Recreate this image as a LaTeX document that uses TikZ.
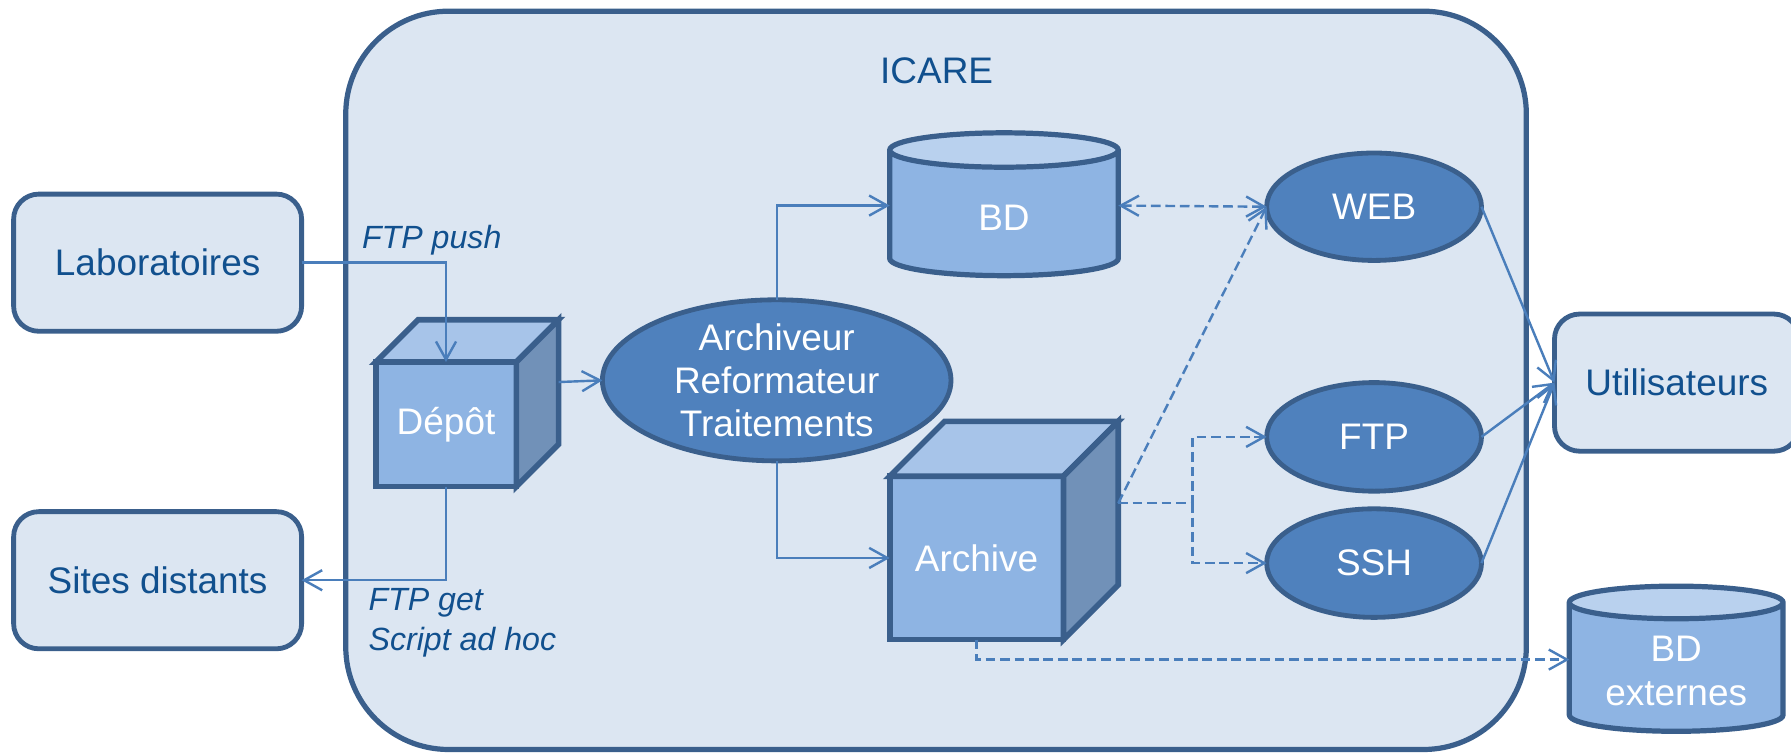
\documentclass[tikz,border=0pt]{standalone}
\usepackage{fontspec}
\setmainfont{Liberation Sans}
\usetikzlibrary{shapes.geometric,arrows.meta,calc}
\definecolor{icarefill}{HTML}{DCE6F2}
\definecolor{icareline}{HTML}{3A5F8C}
\definecolor{linkblue}{HTML}{4A7EBB}
\definecolor{textblue}{HTML}{11508E}
\definecolor{cubefront}{HTML}{8EB4E3}
\definecolor{cubetop}{HTML}{A7C4E9}
\definecolor{cubeside}{HTML}{7191B8}
\definecolor{cyltop}{HTML}{B9D1EE}
\definecolor{ovalfill}{HTML}{4F81BD}
\tikzset{
  txt/.style={font=\fontsize{9.2}{10.8}\selectfont},
  endbox/.style={txt,draw=icareline,fill=icarefill,line width=1.2pt,rounded corners=0.22cm,minimum width=2.52cm,minimum height=1.2cm,text=textblue,inner sep=0,outer sep=0},
  oval/.style={txt,ellipse,draw=icareline,fill=ovalfill,line width=1.2pt,text=white,inner sep=0,outer sep=0},
  cube/.style={txt,draw=icareline,fill=cubefront,line width=1.4pt,text=white,inner sep=0,outer sep=0},
  face/.style={draw=icareline,line width=1.4pt},
  db/.style={txt,cylinder,shape border rotate=90,draw=icareline,line width=1.3pt,cylinder uses custom fill,cylinder body fill=cubefront,cylinder end fill=cyltop,text=white,inner sep=0,outer sep=0,align=center},
  link/.style={linkblue,line width=0.6pt,-{Straight Barb[length=4.5pt,width=5pt]}},
  dlink/.style={link,dash pattern=on 2.4pt off 1.2pt},
  lbl/.style={font=\fontsize{8}{9.9}\selectfont\itshape,text=textblue,inner sep=0}
}
\begin{document}
\begin{tikzpicture}[x=0.01cm,y=-0.01cm]
\useasboundingbox (0,0) rectangle (1568,659);
\node[draw=icareline,fill=icarefill,line width=1.3pt,rounded corners=0.9cm,minimum width=10.33cm,minimum height=6.46cm,inner sep=0] (icare) at (819.5,333) {};
\node[txt,text=textblue] (icarelbl) at (820,62) {ICARE};
\node[endbox] (labo) at (138,230) {Laboratoires};
\node[endbox] (sites) at (138,508) {Sites distants};
\node[endbox,minimum width=2.14cm] (util) at (1468,335) {Utilisateurs};
\node[cube,minimum width=1.23cm,minimum height=1.09cm] (depot) at (390.5,371.5) {Dépôt};
\draw[face,fill=cubetop] (depot.north west) -- ++(37,-37) -- ++(123,0) -- (depot.north east) -- cycle;
\draw[face,fill=cubeside] (depot.north east) -- ++(37,-37) -- ++(0,109) -- (depot.south east) -- cycle;
\node[cube,minimum width=1.52cm,minimum height=1.43cm] (archive) at (855,488.5) {Archive};
\draw[face,fill=cubetop] (archive.north west) -- ++(48,-48) -- ++(152,0) -- (archive.north east) -- cycle;
\draw[face,fill=cubeside] (archive.north east) -- ++(48,-48) -- ++(0,143) -- (archive.south east) -- cycle;
\node[oval,minimum width=3.05cm,minimum height=1.27cm,align=center] (arch) at (680,333) {Archiveur\\Reformateur\\Traitements};
\node[oval,minimum width=1.88cm,minimum height=0.94cm] (web) at (1203,181) {WEB};
\node[oval,minimum width=1.88cm,minimum height=0.95cm] (ftp) at (1203,382.5) {FTP};
\node[oval,minimum width=1.88cm,minimum height=0.95cm] (ssh) at (1203,493) {SSH};
\node[db,aspect=0.67,text height=0.28cm,minimum width=2cm,minimum height=1.25cm] (bd) at (879,187.5) {BD};
\node[db,aspect=0.23,text height=0.65cm,minimum width=1.87cm,minimum height=1.27cm] (bdext) at (1467.5,585) {BD\\externes};
\coordinate (depotback) at ($(depot.east)+(37,-37)$);
\coordinate (archback) at ($(archive.east)+(48,-48)$);
\coordinate (split) at ($(archback)+(65,0)$);
\draw[link] (labo.east) -| (depot.north);
\draw[link] (depot.south) |- (sites.east);
\node[lbl] (push) at (378,210) {FTP push};
\node[lbl,align=left,anchor=west] (get) at (322,545.5) {FTP get\\Script ad hoc};
\draw[link] (depotback) -- (arch.west);
\draw[link] (arch.north) |- ([yshift=0.075cm]bd.west);
\draw[link] (arch.south) |- (archive.west);
\draw[dlink,{Straight Barb[length=4.5pt,width=5pt]}-{Straight Barb[length=4.5pt,width=5pt]}] ([yshift=0.075cm]bd.east) -- (web.west);
\draw[dlink] (archback) -- (web.west);
\draw[dlink] (archback) -- (split) |- (ftp.west);
\draw[dlink] (split) |- (ssh.west);
\draw[dlink] (archive.south) |- ([yshift=0.075cm]bdext.west);
\draw[link] (web.east) -- (util.west);
\draw[link] (ftp.east) -- (util.west);
\draw[link] (ssh.east) -- (util.west);
\end{tikzpicture}
\end{document}
